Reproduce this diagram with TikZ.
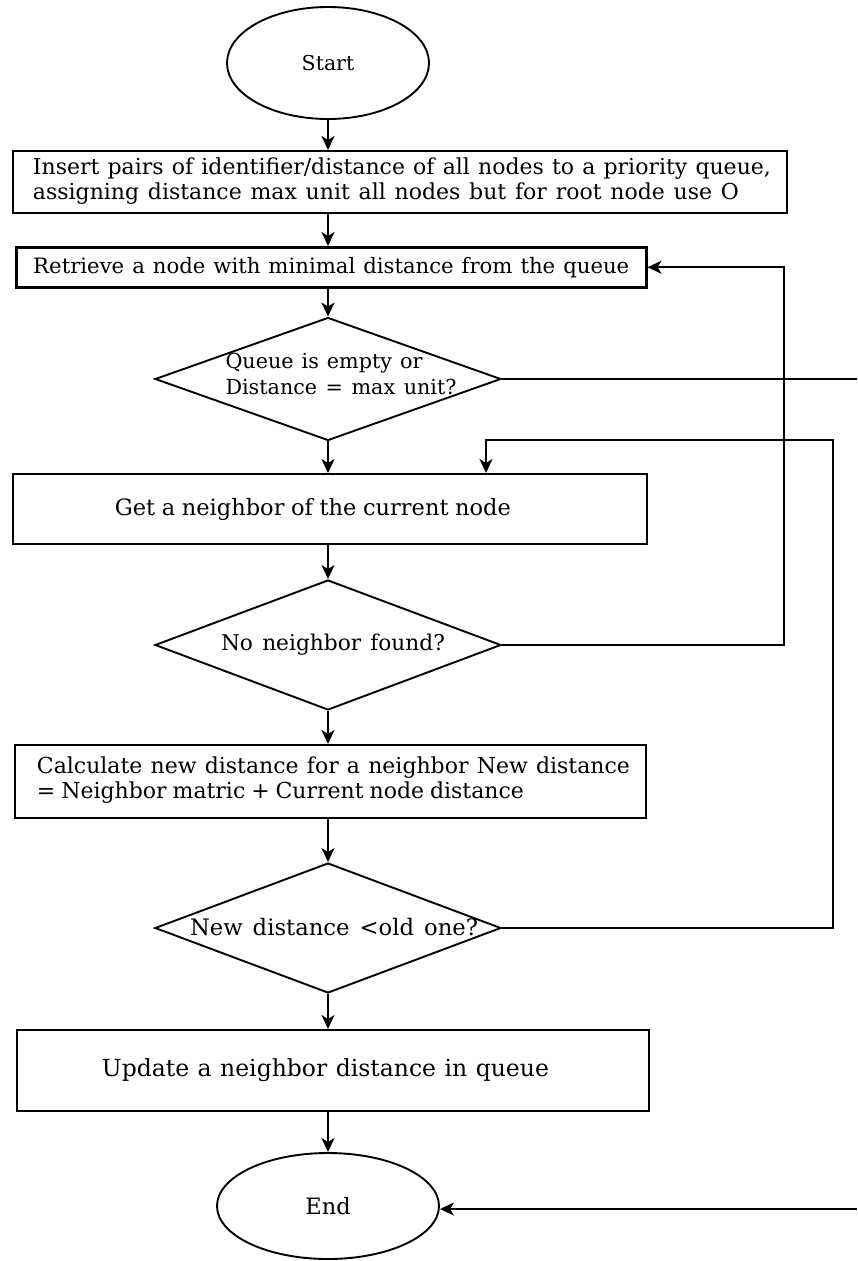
\documentclass[tikz,border=0pt]{standalone}
\usepackage{fontspec}
\setmainfont{DejaVu Serif}
\usetikzlibrary{shapes.geometric,arrows.meta}
\newcommand\sw[2]{\makebox[#1pt][s]{#2}}
\newcommand\fs[1]{\fontsize{#1}{25}\selectfont}
\newcommand\lbox[3]{\makebox[#1pt][l]{\hspace*{#2pt}#3}}
\newcommand\twol[2]{\begin{tabular}{@{}l@{}}#1\\#2\end{tabular}}
\begin{document}
\begin{tikzpicture}[x=1pt,y=-1pt,
  every node/.style={line width=1.9pt},
  arr/.style={line width=1.9pt,-{Stealth[length=14pt,width=13pt,inset=4pt]}},
  line/.style={line width=1.9pt},
  term/.style={draw,ellipse,inner sep=0pt},
  boxnw/.style={draw,rectangle,anchor=north west,inner sep=0pt},
  dia/.style={draw,diamond,inner sep=0pt}
]
\useasboundingbox (0,0) rectangle (857,1261);
\coordinate (cx) at (328,0);
\node[term,minimum width=202pt,minimum height=112pt,font=\fs{20.5}] (start) at (328,63) {Start};
\node[boxnw,minimum height=62pt,font=\fs{22}] (b1) at (12,150)
  {\lbox{774}{20}{\twol{\sw{738}{Insert pairs of identifier/distance of all nodes to a priority queue,}}{\sw{706}{assigning distance max unit all nodes but for root node use O}}}};
\node[boxnw,line width=2.5pt,minimum height=40pt,font=\fs{21.2}] (b2) at (15,246)
  {\lbox{630}{17}{\sw{596}{Retrieve a node with minimal distance from the queue}}};
\node[dia,minimum width=346pt,minimum height=123pt,
  label={[xshift=13pt,yshift=3pt,font=\fontsize{20.7}{26}\selectfont]center:{\twol{\sw{197}{Queue is empty or}}{\sw{231}{Distance = max unit?}}}}] (d1) at (328,379) {};
\node[boxnw,minimum height=70pt,font=\fs{22.5}] (b3) at (12,473)
  {\lbox{634}{102}{\sw{396}{Get a neighbor of the current node}}};
\node[dia,minimum width=346pt,minimum height=130pt,
  label={[xshift=5pt,font=\fs{21.7}]center:{\sw{224}{No neighbor found?}}}] (d2) at (328,645) {};
\node[boxnw,minimum height=73pt,font=\fs{22}] (b4) at (14,744)
  {\lbox{631}{22}{\twol{\sw{593}{Calculate new distance for a neighbor New distance}}{\sw{487}{= Neighbor matric + Current node distance}}}};
\node[dia,minimum width=346pt,minimum height=130pt,
  label={[xshift=6pt,yshift=1pt,font=\fs{22.7}]center:{\sw{288}{New distance <old one?}}}] (d3) at (328,928) {};
\node[boxnw,minimum height=81pt,font=\fs{23.5}] (b5) at (16,1029)
  {\lbox{632}{85}{\sw{447}{Update a neighbor distance in queue}}};
\node[term,minimum width=222pt,minimum height=106pt,font=\fs{22.5}] (end) at (328,1206) {End};
\coordinate (outR) at (857,379);
\coordinate (inR) at (857,1209);
\coordinate (loopA) at (784,645);
\coordinate (loopB) at (833,928);
\coordinate (loopC) at (486,440);
% main flow
\draw[arr] (start) -- (start |- b1.north);
\draw[arr] (cx |- b1.south) -- (cx |- b2.north);
\draw[arr] (cx |- b2.south) -- (d1.north);
\draw[arr] (d1.south) -- (cx |- b3.north);
\draw[arr] (cx |- b3.south) -- (d2.north);
\draw[arr] (d2.south) -- (cx |- b4.north);
\draw[arr] (cx |- b4.south) -- (d3.north);
\draw[arr] (d3.south) -- (cx |- b5.north);
\draw[arr] (cx |- b5.south) -- (end.north);
% loops
\draw[arr] (d2.east) -- (loopA) |- (b2.east);
\draw[arr] (d3.east) -- (loopB) |- (loopC) -- (loopC |- b3.north);
\draw[line] (d1.east) -- (outR);
\draw[arr] (inR) -- (end.east |- inR);
\end{tikzpicture}
\end{document}
